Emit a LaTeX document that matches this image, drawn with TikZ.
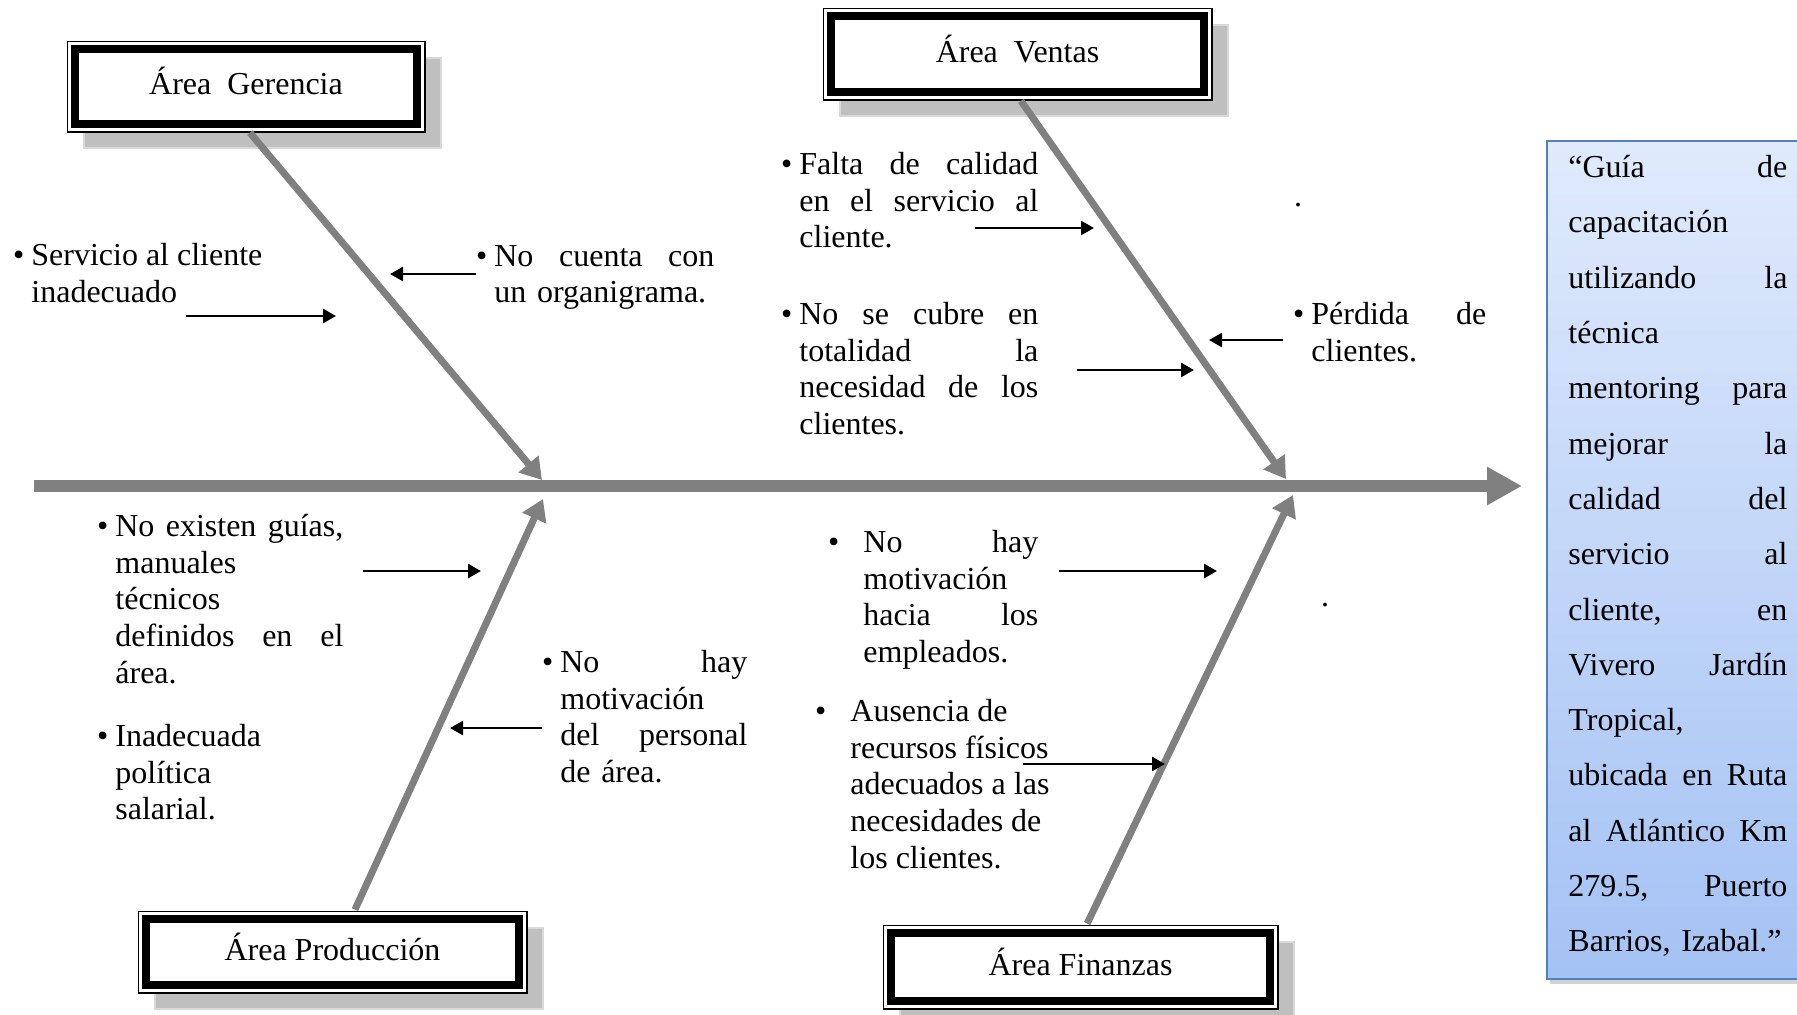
\documentclass[tikz,border=0pt]{standalone}
\usepackage{fontspec}
\setmainfont{Liberation Serif}
\usepackage{tikz}
\usetikzlibrary{arrows.meta, positioning}

\definecolor{bonegray}{HTML}{808080}
\definecolor{shadowgray}{HTML}{BFBFBF}
\definecolor{shadowedge}{HTML}{D9D9D9}
\definecolor{boxblue}{HTML}{4F81BD}
\definecolor{boxtop}{HTML}{E0EAFC}
\definecolor{boxbottom}{HTML}{A4C2F4}

\newlength{\jlw}
\newcommand{\causefont}{\fontsize{16}{18.3}\selectfont}
\newcommand{\jl}[1]{\makebox[\jlw][s]{\spaceskip=0pt\relax\xspaceskip=0pt\relax #1}}
\newcommand{\bul}{\llap{\textbullet\hspace{3.5pt}}}
\newcommand{\wbul}{\llap{\textbullet\hspace{12pt}}}

\begin{document}
\begin{tikzpicture}[
  x=0.5pt, y=-0.5pt,
  areabox/.style={draw, line width=4pt, fill=white, inner sep=0pt,
    font=\fontsize{16}{18}\selectfont, text height=14pt, text depth=6pt,
    preaction={fill=shadowedge, draw=shadowedge, line width=8.5pt, transform canvas={shift={(16,16)}}},
    preaction={fill=shadowgray, draw=shadowgray, line width=6.5pt, transform canvas={shift={(16,16)}}},
    preaction={draw, line width=8.5pt},
    preaction={draw=white, line width=7pt}},
  cause/.style={anchor=north west, inner sep=0pt, align=left, font=\causefont},
  jtext/.style={text width=#1, execute at begin node={\setlength{\jlw}{#1}}},
  spine/.style={-{Triangle[length=17.5pt, width=18pt]}, line width=6pt, draw=bonegray},
  bone/.style={-{Triangle[length=10.5pt, width=12.5pt]}, line width=3.5pt, draw=bonegray, shorten <=3pt},
  arr/.style={-{Triangle[length=6.5pt, width=7pt]}, line width=1.3pt}
]
\clip (0,0) rectangle (1797,1014);
\fill[white] (0,0) rectangle (1797,1014);

\node[areabox, minimum width=171pt, minimum height=37.5pt] (gerencia) at (246,86.5) {Área\ \ Gerencia};
\node[areabox, minimum width=186.5pt, minimum height=38pt] (ventas) at (1017.5,54) {Área\ \ Ventas};
\node[areabox, minimum width=186.5pt, minimum height=33pt] (produccion) at (332.5,952) {Área Producción};
\node[areabox, minimum width=189.5pt, minimum height=34pt] (finanzas) at (1080.5,967) {Área Finanzas};

\node[anchor=north west, draw=boxblue, line width=1.2pt, top color=boxtop, bottom color=boxbottom,
  minimum width=132pt, minimum height=419pt, inner sep=0pt,
  preaction={fill=gray!35, transform canvas={shift={(3,5)}}}] (objetivo) at (1546,140) {};
\node[anchor=north west, inner sep=0pt, jtext=109.5pt, align=left, font=\fontsize{16}{27.65}\selectfont] (texto) at (1568,155)
  {\jl{“Guía de}\\capacitación\\\jl{utilizando la}\\técnica\\\jl{mentoring para}\\\jl{mejorar la}\\\jl{calidad del}\\\jl{servicio al}\\\jl{cliente, en}\\\jl{Vivero Jardín}\\Tropical,\\\jl{ubicada en Ruta}\\\jl{al Atlántico Km}\\\jl{279.5, Puerto}\\Barrios, Izabal.”};

\coordinate (cola) at (34,486);
\coordinate (cabeza) at (1522,486);
\coordinate (pG) at (542,480);
\coordinate (pP) at (543,499);
\coordinate (pV) at (1286,479);
\coordinate (pF) at (1293,495);

\draw[spine] (cola) -- (cabeza);
\draw[bone] (gerencia.south) -- (pG);
\draw[bone] (ventas.south) -- (pV);
\draw[bone] ([xshift=10pt]produccion.north) -- (pP);
\draw[bone] ([xshift=2pt]finanzas.north) -- (pF);

\node[cause] (c1) at (31,243) {\bul Servicio al cliente\\inadecuado};
\node[cause, jtext=110pt] (c2) at (494,245) {\bul\jl{No cuenta con}\\un organigrama.};
\node[cause, jtext=119.5pt] (c3) at (799,152) {\bul\jl{Falta de calidad}\\\jl{en el servicio al}\\cliente.};
\node[cause, jtext=119.5pt] (c4) at (799,302) {\bul\jl{No se cubre en}\\\jl{totalidad la}\\\jl{necesidad de los}\\clientes.};
\node[cause, jtext=87.5pt] (c5) at (1311,302) {\bul\jl{Pérdida de}\\clientes.};
\node[cause, jtext=114pt] (c6) at (115,514) {\bul\jl{No existen guías,}\\manuales\\técnicos\\\jl{definidos en el}\\área.};
\node[cause] (c7) at (115,724) {\bul Inadecuada\\política\\salarial.};
\node[cause, jtext=93.5pt] (c8) at (560,650) {\bul\jl{No hay}\\motivación\\\jl{del personal}\\de área.};
\node[cause, jtext=87.5pt] (c9) at (863,530) {\wbul\jl{No hay}\\motivación\\\jl{hacia los}\\empleados.};
\node[cause] (c10) at (850,699) {\wbul Ausencia de\\recursos físicos\\adecuados a las\\necesidades de\\los clientes.};
\node[font=\causefont, inner sep=0pt, anchor=base] (p1) at (1298,206) {.};
\node[font=\causefont, inner sep=0pt, anchor=base] (p2) at (1325,606) {.};

\coordinate (a1s) at (186,316);  \coordinate (a1e) at (336,316);
\coordinate (a2s) at (476,274);  \coordinate (a2e) at (390,274);
\coordinate (a3s) at (975,228);  \coordinate (a3e) at (1094,228);
\coordinate (a4s) at (1077,370); \coordinate (a4e) at (1194,370);
\coordinate (a5s) at (1283,340); \coordinate (a5e) at (1209,340);
\coordinate (a6s) at (363,571);  \coordinate (a6e) at (481,571);
\coordinate (a8s) at (542,728);  \coordinate (a8e) at (450,728);
\coordinate (a9s) at (1059,571); \coordinate (a9e) at (1217,571);
\coordinate (a10s) at (1023,764); \coordinate (a10e) at (1165,764);

\draw[arr] (a1s) -- (a1e);
\draw[arr] (a2s) -- (a2e);
\draw[arr] (a3s) -- (a3e);
\draw[arr] (a4s) -- (a4e);
\draw[arr] (a5s) -- (a5e);
\draw[arr] (a6s) -- (a6e);
\draw[arr] (a8s) -- (a8e);
\draw[arr] (a9s) -- (a9e);
\draw[arr] (a10s) -- (a10e);
\end{tikzpicture}
\end{document}
